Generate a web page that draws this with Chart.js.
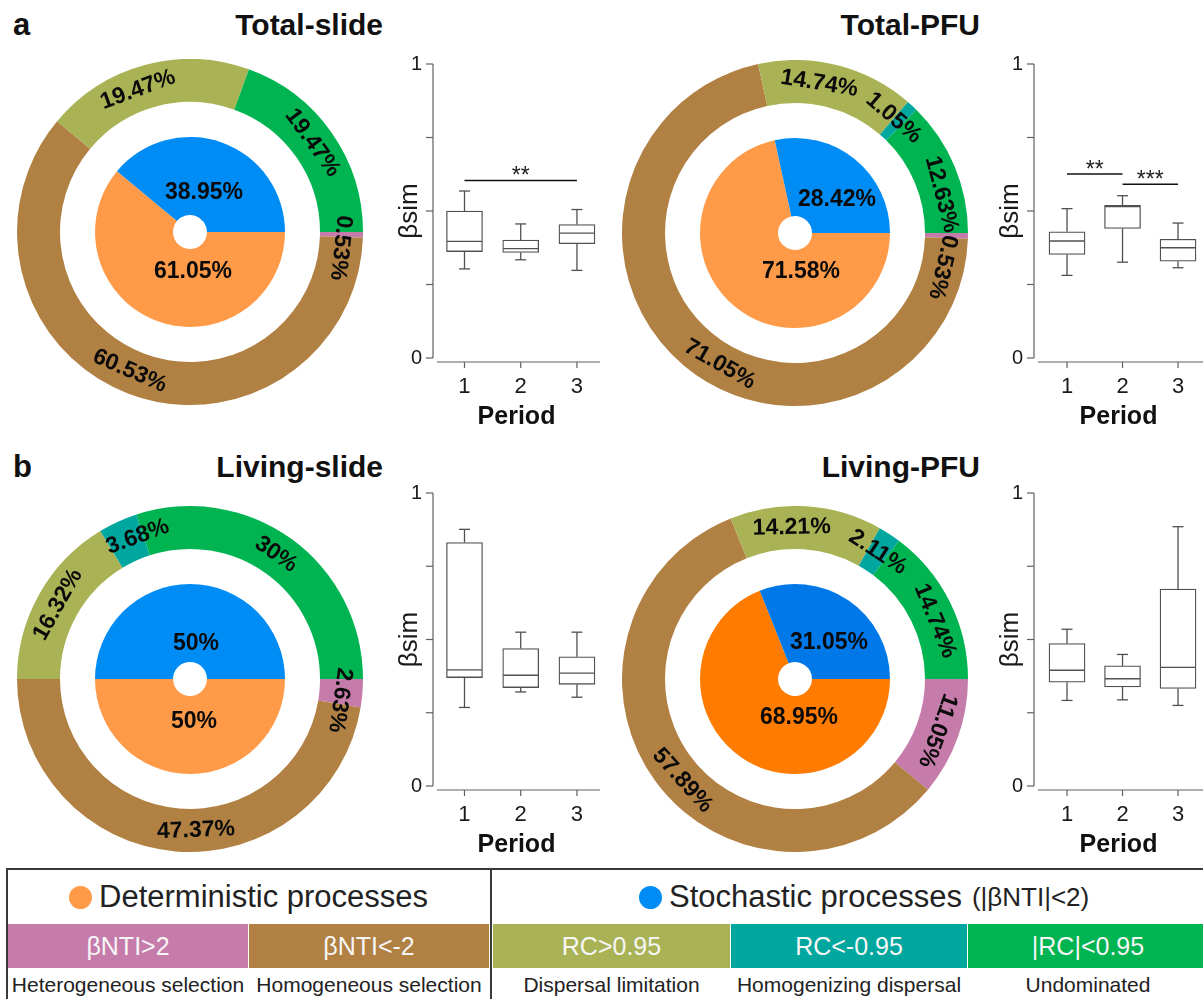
<!DOCTYPE html>
<html>
<head>
<meta charset="utf-8">
<script src="https://cdn.jsdelivr.net/npm/chart.js@4.4.1/dist/chart.umd.min.js"></script>
<style>
  html, body { margin: 0; padding: 0; background: #fff; width: 1203px; height: 999px; overflow: hidden;
    font-family: "Liberation Sans", Arial, sans-serif; position: relative; }
  .abs { position: absolute; }
  .panel-title { font-weight: bold; font-size: 30px; line-height: 30px; color: #111; white-space: nowrap; text-align: right; }
  .panel-letter { font-weight: bold; font-size: 31px; line-height: 30px; color: #111; }
  canvas { position: absolute; }
  #legend { left: 6px; top: 868px; width: 1240px; height: 150px; border: 2px solid #3a3a3a; box-sizing: border-box; }
  .divider { position: absolute; background: #3a3a3a; }
  .head { position: absolute; display: flex; align-items: center; color: #222; white-space: nowrap; }
  .dot { display: inline-block; width: 23px; height: 23px; border-radius: 50%; margin-right: 7px; }
  .cell { position: absolute; height: 44px; line-height: 44px; color: #f6f6f6; font-size: 25px; text-align: center; }
  .desc { position: absolute; height: 32px; line-height: 32px; color: #222; font-size: 21px; text-align: center; white-space: nowrap; }
</style>
</head>
<body>

<div class="abs panel-letter" style="left:13px; top:10px;">a</div>
<div class="abs panel-letter" style="left:13px; top:452px;">b</div>
<div class="abs panel-title" id="t0" style="right:820px; top:10px;"></div>
<div class="abs panel-title" id="t1" style="right:223px; top:10px;"></div>
<div class="abs panel-title" id="t2" style="right:820px; top:452px;"></div>
<div class="abs panel-title" id="t3" style="right:223px; top:452px;"></div>

<canvas id="donut0" width="346" height="346" style="left:17px; top:59px;"></canvas>
<canvas id="donut1" width="346" height="346" style="left:622px; top:60px;"></canvas>
<canvas id="donut2" width="346" height="346" style="left:17px; top:506px;"></canvas>
<canvas id="donut3" width="346" height="346" style="left:622px; top:506px;"></canvas>

<canvas id="box0" width="230" height="399" style="left:370px; top:41px;"></canvas>
<canvas id="box1" width="232" height="399" style="left:971px; top:41px;"></canvas>
<canvas id="box2" width="230" height="398" style="left:370px; top:470px;"></canvas>
<canvas id="box3" width="232" height="398" style="left:971px; top:470px;"></canvas>

<div id="legend" class="abs"></div>
<div class="divider" style="left:490px; top:868px; width:2px; height:140px;"></div>
<div class="head" id="headDet" style="left:69px; top:870px; height:54px; font-size:31px;"></div>
<div class="head" id="headSto" style="left:639px; top:870px; height:54px; font-size:31px;"></div>
<div id="cells"></div>

<script>
// ---- chart values ----
const panelNames = ['Total-slide', 'Total-PFU', 'Living-slide', 'Living-PFU'];
const processCategories = ['Heterogeneous selection', 'Homogeneous selection', 'Dispersal limitation',
                           'Homogenizing dispersal', 'Undominated'];
const processRules = ['\u03B2NTI>2', '\u03B2NTI<-2', 'RC>0.95', 'RC<-0.95', '|RC|<0.95'];
const groupNames = ['Deterministic processes', 'Stochastic processes'];
const stochasticNote = '(|\u03B2NTI|<2)';

// relative contribution (%) of each process, in processCategories order
const totalSlideProcess  = [0.53, 60.53, 19.47, 0, 19.47];
const totalPfuProcess    = [0.53, 71.05, 14.74, 1.05, 12.63];
const livingSlideProcess = [2.63, 47.37, 16.32, 3.68, 30];
const livingPfuProcess   = [11.05, 57.89, 14.21, 2.11, 14.74];

// deterministic vs stochastic share (%)
const totalSlideGroup  = [61.05, 38.95];
const totalPfuGroup    = [71.58, 28.42];
const livingSlideGroup = [50, 50];
const livingPfuGroup   = [68.95, 31.05];

// beta_sim by period: [lower whisker, Q1, median, Q3, upper whisker]
const periods = [1, 2, 3];
const totalSlideBeta  = [[0.303, 0.362, 0.397, 0.500, 0.568], [0.334, 0.359, 0.372, 0.401, 0.456], [0.298, 0.389, 0.425, 0.454, 0.505]];
const totalPfuBeta    = [[0.281, 0.352, 0.398, 0.429, 0.508], [0.326, 0.441, 0.515, 0.519, 0.552], [0.307, 0.329, 0.375, 0.404, 0.459]];
const livingSlideBeta = [[0.268, 0.370, 0.396, 0.831, 0.876], [0.321, 0.336, 0.378, 0.469, 0.525], [0.303, 0.347, 0.385, 0.441, 0.525]];
const livingPfuBeta   = [[0.292, 0.354, 0.395, 0.486, 0.535], [0.294, 0.338, 0.366, 0.410, 0.449], [0.275, 0.333, 0.405, 0.672, 0.885]];

// significance brackets: [from period, to period, height, stars]
const totalSlideSig = [[1, 3, 0.604, '**']];
const totalPfuSig   = [[1, 2, 0.626, '**'], [2, 3, 0.591, '***']];
const noSig = [];

const yTickValues = [0, 0.25, 0.5, 0.75, 1];
const yTickLabels = ['0', '', '', '', '1'];

// ---- styling ----
const FONT = '"Liberation Sans", Arial, sans-serif';
const processColors = ['#C67CAB', '#B18043', '#A9B355', '#00A79E', '#00B451'];
const groupColorsLight = ['#FF9A48', '#008CF5'];
const groupColorsDeep  = ['#FF7C00', '#0078E7'];

Chart.defaults.font.family = FONT;

const donutLabels = {
  id: 'donutLabels',
  afterDatasetsDraw(chart, args, opts) {
    const ctx = chart.ctx;
    ctx.save();
    ctx.fillStyle = '#0a0a0a';
    ctx.font = 'bold 23px ' + FONT;
    ctx.textAlign = 'center';
    ctx.textBaseline = 'middle';
    // outer ring: text follows the ring
    const ringValues = chart.data.datasets[0].data;
    chart.getDatasetMeta(0).data.forEach((arc, i) => {
      const v = ringValues[i];
      if (!v) return;
      const p = arc.getProps(['x', 'y', 'startAngle', 'endAngle', 'innerRadius', 'outerRadius'], true);
      const a = (p.startAngle + p.endAngle) / 2 + (opts.ringShift[i] || 0) * Math.PI / 180;
      const r = (p.innerRadius + p.outerRadius) / 2;
      let deg = ((a * 180 / Math.PI) % 360 + 360) % 360;
      const rot = (deg >= 45 && deg < 180) ? deg - 90 : deg + 90;
      ctx.save();
      ctx.translate(p.x + r * Math.cos(a), p.y + r * Math.sin(a));
      ctx.rotate(rot * Math.PI / 180);
      ctx.fillText(v + '%', 0, 0);
      ctx.restore();
    });
    // inner pie
    const pieIndex = chart.data.datasets.length - 1;
    const pieValues = chart.data.datasets[pieIndex].data;
    chart.getDatasetMeta(pieIndex).data.forEach((arc, i) => {
      const p = arc.getProps(['x', 'y'], true);
      const off = opts.pieLabelOffset[i];
      ctx.fillText(pieValues[i] + '%', p.x + off[0], p.y + off[1]);
    });
    ctx.restore();
  }
};

function makeDonut(id, processVals, groupVals, groupColors, ringShift, pieLabelOffset) {
  return new Chart(document.getElementById(id), {
    type: 'doughnut',
    data: {
      labels: processCategories,
      datasets: [
        { data: processVals, backgroundColor: processColors, borderWidth: 0, hoverBorderWidth: 0, hoverOffset: 0, offset: 0, weight: 43 },
        { data: [1], backgroundColor: 'rgba(0,0,0,0)', borderWidth: 0, hoverBorderWidth: 0, hoverOffset: 0, offset: 0, weight: 35 },
        { data: groupVals, backgroundColor: groupColors, borderWidth: 0, hoverBorderWidth: 0, hoverOffset: 0, offset: 0, weight: 78 }
      ]
    },
    options: {
      responsive: false, animation: false, devicePixelRatio: 1, events: [],
      rotation: 90, cutout: (17 / 173 * 100) + '%',
      layout: { padding: 0 },
      plugins: { legend: { display: false }, tooltip: { enabled: false },
                 donutLabels: { ringShift, pieLabelOffset } }
    },
    plugins: [donutLabels]
  });
}

const boxExtras = {
  id: 'boxExtras',
  afterDatasetsDraw(chart, args, opts) {
    const { ctx, chartArea: ca, scales: { x, y } } = chart;
    const line = (x1, y1, x2, y2) => { ctx.beginPath(); ctx.moveTo(x1, y1); ctx.lineTo(x2, y2); ctx.stroke(); };
    ctx.save();
    ctx.strokeStyle = '#505050';
    ctx.lineWidth = 1.3;
    opts.stats.forEach((s, i) => {
      const px = x.getPixelForValue(periods[i]);
      const [lo, q1, med, q3, hi] = s.map(v => y.getPixelForValue(v));
      const cap = 5.5, half = 17.5;
      line(px, hi, px, q3); line(px - cap, hi, px + cap, hi);
      line(px, q1, px, lo); line(px - cap, lo, px + cap, lo);
      line(px - half, med, px + half, med);
    });
    // axes drawn R-style, slightly detached
    ctx.strokeStyle = '#606060';
    ctx.lineWidth = 1.2;
    line(ca.left, y.getPixelForValue(1), ca.left, y.getPixelForValue(0));
    yTickValues.forEach(v => { const py = y.getPixelForValue(v); line(ca.left - 7, py, ca.left, py); });
    const axY = ca.bottom + 4;
    line(ca.left + 4, axY, ca.right, axY);
    periods.forEach(p => { const px = x.getPixelForValue(p); line(px, axY, px, axY + 6); });
    // significance brackets
    ctx.strokeStyle = '#111';
    ctx.lineWidth = 1.5;
    ctx.fillStyle = '#222';
    ctx.font = '23px ' + FONT;
    ctx.textAlign = 'center';
    ctx.textBaseline = 'alphabetic';
    opts.sig.forEach(([a, b, h, stars]) => {
      const x1 = x.getPixelForValue(a), x2 = x.getPixelForValue(b), py = y.getPixelForValue(h);
      line(x1, py, x2, py);
      ctx.fillText(stars, (x1 + x2) / 2, py + 3);
    });
    ctx.restore();
  }
};

function makeBox(id, stats, sig, xmin, xmax) {
  return new Chart(document.getElementById(id), {
    type: 'bar',
    data: {
      datasets: [{
        data: periods.map((p, i) => ({ x: p, y: [stats[i][1], stats[i][3]] })),
        backgroundColor: '#ffffff', borderColor: '#505050', borderWidth: 1.3,
        borderSkipped: false, barThickness: 36
      }]
    },
    options: {
      responsive: false, animation: false, devicePixelRatio: 1, events: [],
      layout: { padding: { top: 20, right: 0, bottom: 0, left: 0 } },
      scales: {
        x: {
          type: 'linear', min: xmin, max: xmax, offset: false,
          afterBuildTicks: s => { s.ticks = periods.map(v => ({ value: v })); },
          afterFit: s => { s.height = 82; },
          grid: { display: false, drawTicks: false, offset: false }, border: { display: false },
          ticks: { font: { size: 22, family: FONT }, color: '#1a1a1a', padding: 16, callback: v => String(v) },
          title: { display: true, text: 'Period', color: '#111', font: { size: 25, weight: 'bold', family: FONT },
                   padding: { top: 0, bottom: 8 } }
        },
        y: {
          min: 0, max: 1,
          afterBuildTicks: s => { s.ticks = yTickValues.map(v => ({ value: v })); },
          afterFit: s => { s.width = 63; },
          grid: { display: false, drawTicks: false }, border: { display: false },
          ticks: { font: { size: 20, family: FONT }, color: '#1a1a1a', padding: 11,
                   callback: (v, i) => yTickLabels[yTickValues.indexOf(v)] },
          title: { display: true, text: '\u03B2sim', color: '#1a1a1a', font: { size: 26, family: FONT },
                   padding: { top: 24, bottom: 0 } }
        }
      },
      plugins: { legend: { display: false }, tooltip: { enabled: false }, boxExtras: { stats, sig } }
    },
    plugins: [boxExtras]
  });
}

panelNames.forEach((n, i) => { document.getElementById('t' + i).textContent = n; });

makeDonut('donut0', totalSlideProcess, totalSlideGroup, groupColorsLight, [5, 2.6, -5, 0, -1], [[3, 40], [14, -39]]);
makeDonut('donut1', totalPfuProcess, totalPfuGroup, groupColorsLight, [12, -10, -5, -2, 8], [[6, 39], [42, -33]]);
makeDonut('donut2', livingSlideProcess, livingSlideGroup, groupColorsLight, [3.3, -7, 0, 4.4, -1.4], [[4, 43], [6, -35]]);
makeDonut('donut3', livingPfuProcess, livingPfuGroup, groupColorsDeep, [0, -6, -5, 0, 4], [[4, 39], [34, -36]]);

makeBox('box0', totalSlideBeta, totalSlideSig, 0.44, 3.41);
makeBox('box1', totalPfuBeta, totalPfuSig, 0.405, 3.45);
makeBox('box2', livingSlideBeta, noSig, 0.44, 3.41);
makeBox('box3', livingPfuBeta, noSig, 0.405, 3.45);

// ---- legend table ----
(function buildLegend() {
  const det = document.getElementById('headDet');
  det.innerHTML = '<span class="dot" style="background:' + groupColorsLight[0] + '"></span>';
  det.appendChild(document.createTextNode(groupNames[0]));
  const sto = document.getElementById('headSto');
  sto.innerHTML = '<span class="dot" style="background:' + groupColorsLight[1] + '"></span>';
  sto.appendChild(document.createTextNode(groupNames[1]));
  const note = document.createElement('span');
  note.style.fontSize = '26px';
  note.style.marginLeft = '10px';
  note.textContent = stochasticNote;
  sto.appendChild(note);

  const cellLeft  = [8, 249, 493, 731, 968];
  const cellWidth = [240, 240, 237, 236, 240];
  const host = document.getElementById('cells');
  processRules.forEach((rule, i) => {
    const c = document.createElement('div');
    c.className = 'cell';
    c.style.left = cellLeft[i] + 'px';
    c.style.top = '924px';
    c.style.width = cellWidth[i] + 'px';
    c.style.background = processColors[i];
    c.textContent = rule;
    host.appendChild(c);
    const d = document.createElement('div');
    d.className = 'desc';
    d.style.left = cellLeft[i] + 'px';
    d.style.top = '969px';
    d.style.width = cellWidth[i] + 'px';
    d.textContent = processCategories[i];
    host.appendChild(d);
  });
})();
</script>
</body>
</html>
